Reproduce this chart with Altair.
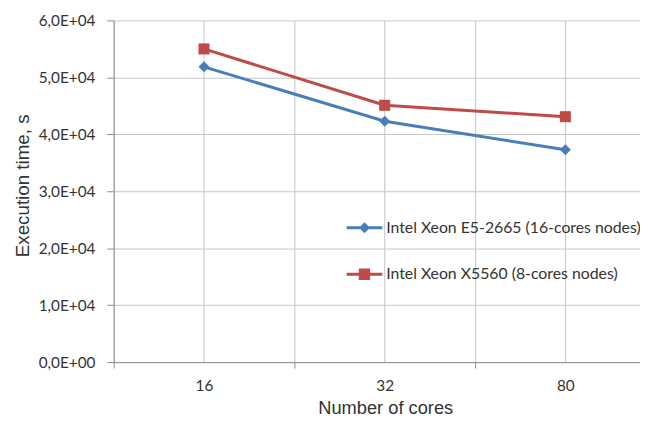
import json
import altair as alt
import pandas as pd

# ---- data ----
cores = ["16", "32", "80"]
series_names = ["Intel Xeon E5-2665 (16-cores nodes)", "Intel Xeon X5560 (8-cores nodes)"]
e5_2665 = [51850, 42300, 37300]
x5560 = [55000, 45100, 43100]
y_ticks = [0, 10000, 20000, 30000, 40000, 50000, 60000]
y_tick_labels = ["0,0E+00", "1,0E+04", "2,0E+04", "3,0E+04", "4,0E+04", "5,0E+04", "6,0E+04"]

colors = ["#4a7ebb", "#be4b48"]
markers = ["diamond", "square"]
legend_paths = [
    "M-1,-0.085H1V0.085H-1Z M0,-0.31L0.31,0L0,0.31L-0.31,0Z",
    "M-1,-0.085H1V0.085H-1Z M-0.32,-0.32H0.32V0.32H-0.32Z",
]

rows = []
for s, vals, c, m in zip(series_names, [e5_2665, x5560], colors, markers):
    for i, v in enumerate(vals):
        rows.append({"series": s, "idx": i, "value": v, "color": c, "marker": m})
df = pd.DataFrame(rows)

LABEL_FONT = "Lato"
TITLE_FONT = "Liberation Sans"
TEXT = "#333333"
AXIS = "#8c8c8c"
GRID = "#c4c4c4"

x_values = [-0.5, 0, 0.5, 1, 1.5, 2]
x_label_expr = "datum.value % 1 == 0 ? " + json.dumps(cores) + "[datum.value] : ''"
y_label_expr = json.dumps(y_tick_labels) + "[round(datum.value / 10000)]"

x_enc = alt.X(
    "idx:Q",
    scale=alt.Scale(domain=[-0.5, 2.413], nice=False, zero=False),
    axis=alt.Axis(
        values=x_values,
        labelExpr=x_label_expr,
        title="Number of cores",
        grid=True,
        gridColor=GRID,
        domainColor=AXIS,
        tickColor=alt.condition("datum.value % 1 != 0", alt.value(AXIS), alt.value("transparent")),
        tickSize=6,
        labelPadding=11,
        labelFlush=False,
        labelOverlap=False,
        labelFont=LABEL_FONT,
        labelFontSize=15.5,
        labelColor=TEXT,
        titleFont=TITLE_FONT,
        titleFontSize=18.5,
        titleFontWeight="normal",
        titleColor=TEXT,
        titleX=275,
        titleY=46,
        titleAlign="center",
        titleBaseline="middle",
    ),
)

y_enc = alt.Y(
    "value:Q",
    scale=alt.Scale(domain=[0, 60000], nice=False),
    axis=alt.Axis(
        values=y_ticks,
        labelExpr=y_label_expr,
        title="Execution time, s",
        grid=True,
        gridColor=GRID,
        domainColor=AXIS,
        tickColor=AXIS,
        tickSize=7,
        labelPadding=12,
        labelFont=LABEL_FONT,
        labelFontSize=15.5,
        labelColor=TEXT,
        titleFont=TITLE_FONT,
        titleFontSize=19,
        titleFontWeight="normal",
        titleColor=TEXT,
        titleX=-92,
        titleY=167,
        titleAlign="center",
        titleBaseline="middle",
    ),
)

base = alt.Chart(df)

lines = base.mark_line(strokeWidth=3).encode(
    x=x_enc,
    y=y_enc,
    color=alt.Color("color:N", scale=None),
    detail="series:N",
)

points = base.mark_point(filled=True, size=125, opacity=1).encode(
    x=x_enc,
    y=y_enc,
    color=alt.Color("color:N", scale=None),
    shape=alt.Shape("marker:N", scale=None),
)

legend_props = dict(
    title=None,
    orient="none",
    legendX=236,
    legendY=192,
    symbolSize=1296,
    symbolStrokeWidth=0,
    symbolOpacity=1,
    labelFont=LABEL_FONT,
    labelFontSize=16,
    labelColor=TEXT,
    labelOffset=4,
    labelLimit=400,
    rowPadding=21,
    padding=0,
)

legend_layer = base.transform_filter("false").mark_point(filled=True).encode(
    x=x_enc,
    y=y_enc,
    color=alt.Color(
        "series:N",
        scale=alt.Scale(domain=series_names, range=colors),
        legend=alt.Legend(**legend_props),
    ),
    shape=alt.Shape(
        "series:N",
        scale=alt.Scale(domain=series_names, range=legend_paths),
        legend=alt.Legend(**legend_props),
    ),
)

chart = (
    alt.layer(lines, points, legend_layer)
    .resolve_scale(color="independent", shape="independent")
    .properties(
        width=533,
        height=346,
        autosize=alt.AutoSizeParams(type="none"),
        padding={"left": 107, "top": 10, "right": 0, "bottom": 54},
        background="white",
    )
    .configure_view(stroke=None)
)

chart.save("out.html", embed_options={"renderer": "svg", "actions": False})
